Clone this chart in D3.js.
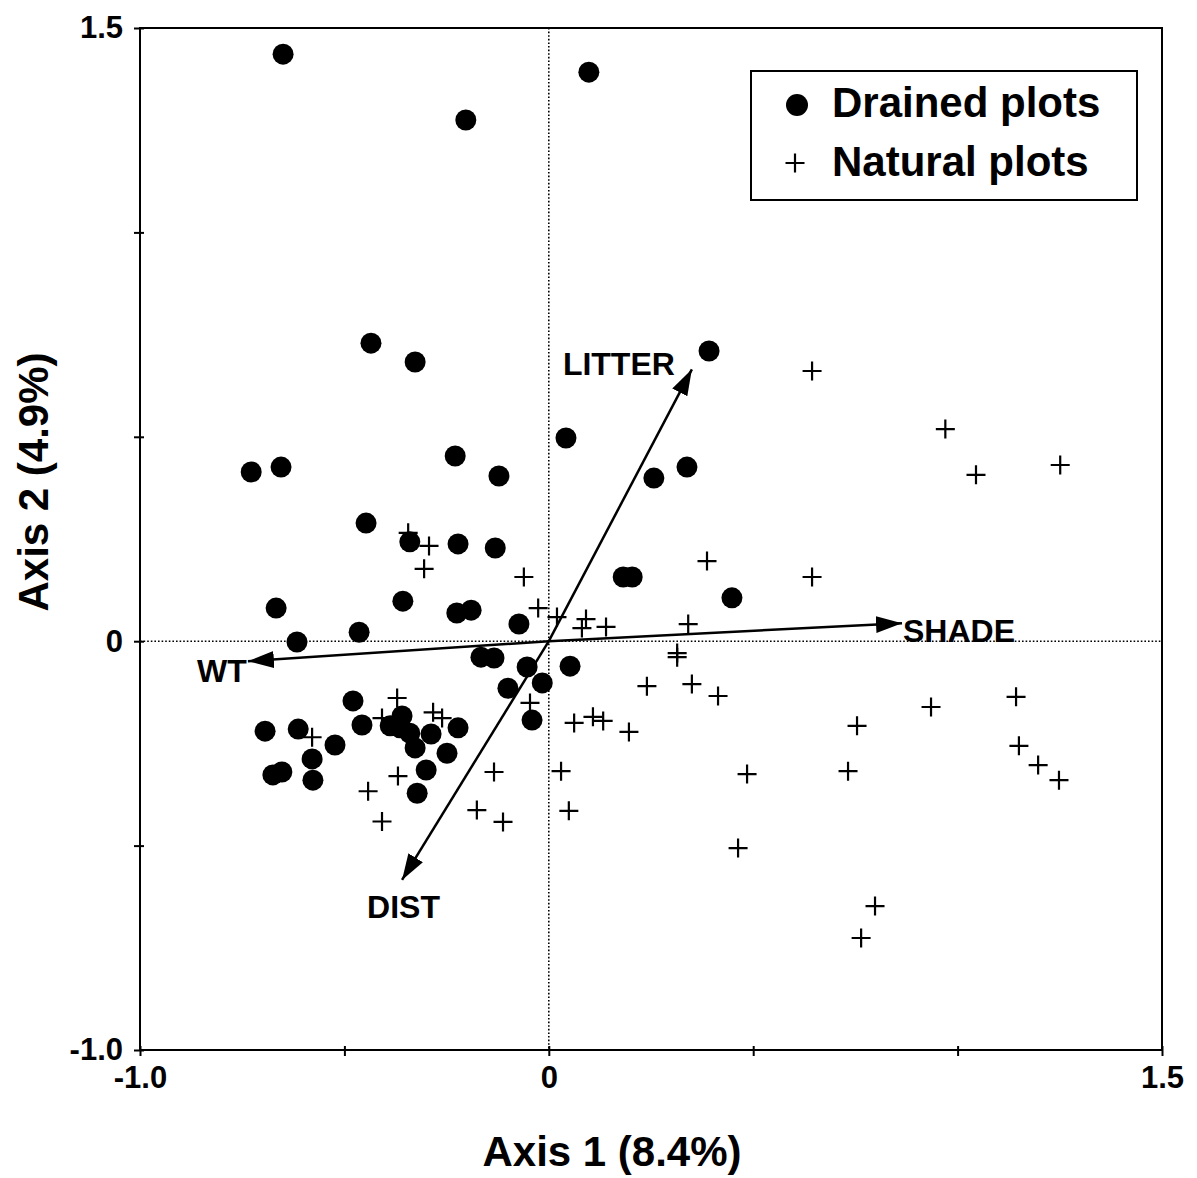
<!DOCTYPE html>
<html>
<head>
<meta charset="utf-8">
<script src="https://cdn.jsdelivr.net/npm/d3@7"></script>
<style>
  body { margin: 0; background: #fff; }
  text { font-family: "Liberation Sans", Arial, sans-serif; font-weight: bold; fill: #000; }
</style>
</head>
<body>
<div class="chart"></div>
<script>
// ordination biplot, drained vs natural plots

// drained plots (filled circles)
var drainedX = [-0.650, 0.098, -0.203, -0.435, -0.327, 0.392, 0.042, -0.728, -0.655, -0.229,
  -0.122, 0.257, 0.338, -0.447, -0.340, -0.222, -0.131, 0.182, 0.204, 0.448,
  -0.667, -0.357, -0.225, -0.190, -0.464, -0.616, -0.073, -0.166, -0.134, -0.053,
  0.052, -0.100, -0.016, -0.041, -0.479, -0.457, -0.694, -0.613, -0.579, -0.523,
  -0.675, -0.653, -0.577, -0.388, -0.359, -0.364, -0.340, -0.327, -0.288, -0.222,
  -0.249, -0.300, -0.322];
var drainedY = [1.436, 1.392, 1.275, 0.729, 0.683, 0.710, 0.497, 0.414, 0.426, 0.453,
  0.404, 0.399, 0.426, 0.289, 0.243, 0.238, 0.228, 0.157, 0.157, 0.106,
  0.081, 0.098, 0.069, 0.076, 0.022, -0.002, 0.042, -0.039, -0.041, -0.063,
  -0.061, -0.115, -0.102, -0.193, -0.146, -0.205, -0.220, -0.215, -0.288, -0.254,
  -0.327, -0.320, -0.340, -0.207, -0.183, -0.212, -0.225, -0.261, -0.227, -0.212,
  -0.274, -0.315, -0.372];

// natural plots (crosses)
var naturalX = [-0.344, -0.293, -0.305, -0.061, -0.026, 0.020, 0.091, 0.081, 0.140, 0.341,
  0.387, 0.644, 0.970, 1.045, 1.251, 0.644, 0.314, 0.314, 0.240, 0.350,
  0.414, -0.046, 0.062, 0.108, 0.133, 0.196, -0.134, 0.030, 0.485, 0.463,
  0.754, 0.732, 0.935, 1.143, 1.150, 1.197, 1.248, 0.798, 0.764, -0.371,
  -0.408, -0.283, -0.261, -0.579, -0.369, -0.442, -0.408, -0.176, -0.112, 0.049];
var naturalY = [0.265, 0.233, 0.177, 0.157, 0.081, 0.059, 0.054, 0.032, 0.035, 0.042,
  0.196, 0.661, 0.519, 0.407, 0.431, 0.157, -0.029, -0.039, -0.110, -0.105,
  -0.134, -0.151, -0.200, -0.185, -0.195, -0.222, -0.320, -0.318, -0.325, -0.506,
  -0.207, -0.318, -0.161, -0.136, -0.256, -0.303, -0.340, -0.648, -0.726, -0.139,
  -0.188, -0.174, -0.188, -0.235, -0.330, -0.367, -0.441, -0.413, -0.442, -0.415];

// environmental vectors
var vectorNames = ['LITTER', 'SHADE', 'WT', 'DIST'];
var vectorX = [0.350, 0.864, -0.736, -0.359];
var vectorY = [0.665, 0.044, -0.049, -0.584];

var axisTicks = [-1.0, -0.5, 0, 0.5, 1.0, 1.5];
var axisTickLabels = ['-1.0', '', '0', '', '', '1.5'];

var legendLabels = ['Drained plots', 'Natural plots'];
var axisTitles = ['Axis 1 (8.4%)', 'Axis 2 (4.9%)'];

var opts = {
  width: 1197,
  height: 1178,
  left: 140,
  top: 28,
  plotSize: 1022
};

var svg = d3.select('.chart').append('svg')
  .attr('width', opts.width)
  .attr('height', opts.height);

var x = d3.scaleLinear().domain([-1, 1.5]).range([opts.left, opts.left + opts.plotSize]);
var y = d3.scaleLinear().domain([-1, 1.5]).range([opts.top + opts.plotSize, opts.top]);

var tickLabel = function (d) { return axisTickLabels[axisTicks.indexOf(d)]; };

// zero lines (dotted)
svg.append('line')
  .attr('x1', x(0)).attr('x2', x(0))
  .attr('y1', y(1.5)).attr('y2', y(-1))
  .attr('stroke', '#000').attr('stroke-width', 1.6)
  .attr('stroke-dasharray', '1.6,2');
svg.append('line')
  .attr('x1', x(-1)).attr('x2', x(1.5))
  .attr('y1', y(0)).attr('y2', y(0))
  .attr('stroke', '#000').attr('stroke-width', 1.6)
  .attr('stroke-dasharray', '1.6,2');

// frame
svg.append('rect')
  .attr('x', x(-1)).attr('y', y(1.5))
  .attr('width', x(1.5) - x(-1)).attr('height', y(-1) - y(1.5))
  .attr('fill', 'none').attr('stroke', '#000').attr('stroke-width', 2);

// axes
var xAxis = svg.append('g')
  .attr('transform', 'translate(0,' + y(-1) + ')')
  .call(d3.axisBottom(x).tickValues(axisTicks).tickFormat(tickLabel).tickSize(6).tickPadding(10));
var yAxis = svg.append('g')
  .attr('transform', 'translate(' + x(-1) + ',0)')
  .call(d3.axisLeft(y).tickValues(axisTicks).tickFormat(tickLabel).tickSize(6).tickPadding(11));

[xAxis, yAxis].forEach(function (g) {
  g.select('.domain').remove();
  g.selectAll('.tick line').attr('stroke', '#000').attr('stroke-width', 2);
  g.selectAll('.tick text')
    .style('font-family', '"Liberation Sans", Arial, sans-serif')
    .style('font-weight', 'bold')
    .style('font-size', '31px')
    .attr('fill', '#000');
});
// ticks cross the axis line a bit
xAxis.selectAll('.tick line').attr('y1', -4);
yAxis.selectAll('.tick line').attr('x1', 4);

// axis titles
svg.append('text')
  .attr('x', 612).attr('y', 1166)
  .attr('text-anchor', 'middle')
  .style('font-size', '42px')
  .text(axisTitles[0]);
svg.append('text')
  .attr('transform', 'translate(48,482) rotate(-90)')
  .attr('text-anchor', 'middle')
  .style('font-size', '42px')
  .text(axisTitles[1]);

// points
var drained = drainedX.map(function (v, i) { return {x: v, y: drainedY[i]}; });
var natural = naturalX.map(function (v, i) { return {x: v, y: naturalY[i]}; });

var plus = 'M-9.5,0H9.5M0,-9.5V9.5';

svg.append('g').selectAll('path')
  .data(natural)
  .enter()
  .append('path')
  .attr('d', plus)
  .attr('transform', function (d) { return 'translate(' + x(d.x) + ',' + y(d.y) + ')'; })
  .attr('stroke', '#000').attr('stroke-width', 2.2).attr('fill', 'none');

svg.append('g').selectAll('circle')
  .data(drained)
  .enter()
  .append('circle')
  .attr('cx', function (d) { return x(d.x); })
  .attr('cy', function (d) { return y(d.y); })
  .attr('r', 10.5)
  .attr('fill', '#000');

// arrow head
svg.append('defs').append('marker')
  .attr('id', 'head')
  .attr('markerUnits', 'userSpaceOnUse')
  .attr('viewBox', '0 -10 28 20')
  .attr('markerWidth', 28).attr('markerHeight', 20)
  .attr('refX', 26).attr('refY', 0)
  .attr('orient', 'auto')
  .append('path')
  .attr('d', 'M0,-8.5L26,0L0,8.5Z')
  .attr('fill', '#000');

var vectors = vectorNames.map(function (n, i) { return {name: n, x: vectorX[i], y: vectorY[i]}; });
// label offsets from the arrow tip (pixels)
var labelOffset = {
  LITTER: [-129, 6, 'start'],
  SHADE: [1, 19, 'start'],
  WT: [-51, 21, 'start'],
  DIST: [-35, 38, 'start']
};

svg.append('g').selectAll('line')
  .data(vectors)
  .enter()
  .append('line')
  .attr('x1', x(0)).attr('y1', y(0))
  .attr('x2', function (d) { return x(d.x); })
  .attr('y2', function (d) { return y(d.y); })
  .attr('stroke', '#000').attr('stroke-width', 2.5)
  .attr('marker-end', 'url(#head)');

svg.append('g').selectAll('text')
  .data(vectors)
  .enter()
  .append('text')
  .attr('x', function (d) { return x(d.x) + labelOffset[d.name][0]; })
  .attr('y', function (d) { return y(d.y) + labelOffset[d.name][1]; })
  .attr('text-anchor', function (d) { return labelOffset[d.name][2]; })
  .style('font-size', '32px')
  .text(function (d) { return d.name; });

// legend
var legend = svg.append('g');
legend.append('rect')
  .attr('x', 751).attr('y', 71)
  .attr('width', 386).attr('height', 129)
  .attr('fill', '#fff').attr('stroke', '#000').attr('stroke-width', 2);
legend.append('circle').attr('cx', 797).attr('cy', 105).attr('r', 11).attr('fill', '#000');
legend.append('path')
  .attr('d', plus)
  .attr('transform', 'translate(795,163)')
  .attr('stroke', '#000').attr('stroke-width', 2.2);
legend.selectAll('text.lab')
  .data(legendLabels)
  .enter()
  .append('text')
  .attr('class', 'lab')
  .attr('x', 832)
  .attr('y', function (d, i) { return 117 + i * 59; })
  .style('font-size', '42px')
  .text(function (d) { return d; });
</script>
</body>
</html>
